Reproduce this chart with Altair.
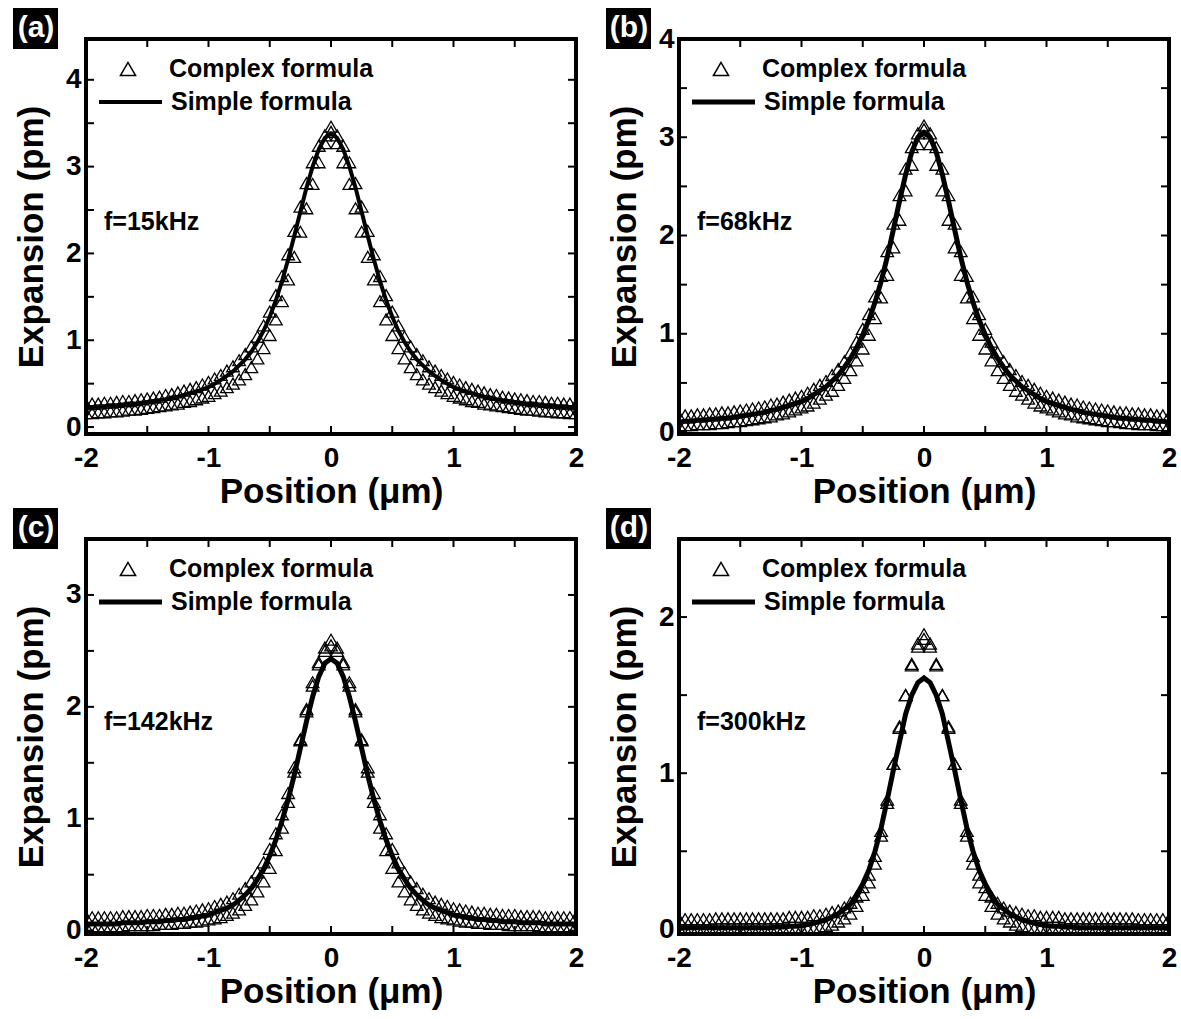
import altair as alt
import pandas as pd

# ---------------- data ----------------
X = [-2.00,-1.95,-1.90,-1.85,-1.80,-1.75,-1.70,-1.65,-1.60,-1.55,
     -1.50,-1.45,-1.40,-1.35,-1.30,-1.25,-1.20,-1.15,-1.10,-1.05,
     -1.00,-0.95,-0.90,-0.85,-0.80,-0.75,-0.70,-0.65,-0.60,-0.55,
     -0.50,-0.45,-0.40,-0.35,-0.30,-0.25,-0.20,-0.15,-0.10,-0.05,
     0.00,
     0.05,0.10,0.15,0.20,0.25,0.30,0.35,0.40,0.45,0.50,
     0.55,0.60,0.65,0.70,0.75,0.80,0.85,0.90,0.95,1.00,
     1.05,1.10,1.15,1.20,1.25,1.30,1.35,1.40,1.45,1.50,
     1.55,1.60,1.65,1.70,1.75,1.80,1.85,1.90,1.95,2.00]

# panel (a) f=15kHz
A_LINE = [0.23,0.23,0.24,0.24,0.25,0.25,0.26,0.27,0.27,0.28,
          0.29,0.30,0.31,0.32,0.34,0.35,0.37,0.39,0.41,0.43,
          0.46,0.50,0.54,0.59,0.64,0.71,0.78,0.87,0.98,1.11,
          1.27,1.46,1.68,1.93,2.20,2.48,2.76,3.00,3.20,3.33,
          3.38,
          3.33,3.20,3.00,2.76,2.48,2.20,1.93,1.68,1.46,1.27,
          1.11,0.98,0.87,0.78,0.71,0.64,0.59,0.54,0.50,0.46,
          0.43,0.41,0.39,0.37,0.35,0.34,0.32,0.31,0.30,0.29,
          0.28,0.27,0.27,0.26,0.25,0.25,0.24,0.24,0.23,0.23]
A_UP = [0.26,0.27,0.27,0.28,0.28,0.29,0.30,0.30,0.31,0.32,
        0.33,0.34,0.35,0.37,0.38,0.40,0.42,0.44,0.46,0.49,
        0.52,0.56,0.60,0.65,0.70,0.77,0.84,0.93,1.04,1.17,
        1.33,1.52,1.74,1.99,2.26,2.54,2.81,3.05,3.24,3.36,
        3.40,
        3.36,3.24,3.05,2.81,2.54,2.26,1.99,1.74,1.52,1.33,
        1.17,1.04,0.93,0.84,0.77,0.70,0.65,0.60,0.56,0.52,
        0.49,0.46,0.44,0.42,0.40,0.38,0.37,0.35,0.34,0.33,
        0.32,0.31,0.30,0.30,0.29,0.28,0.28,0.27,0.27,0.26]
A_LOW = [0.16,0.16,0.17,0.17,0.18,0.18,0.19,0.20,0.20,0.21,
         0.22,0.23,0.24,0.25,0.26,0.27,0.29,0.30,0.32,0.34,
         0.36,0.39,0.42,0.46,0.50,0.55,0.61,0.69,0.79,0.91,
         1.06,1.24,1.45,1.70,1.96,2.25,2.52,2.80,3.05,3.27,
         3.46,
         3.27,3.05,2.80,2.52,2.25,1.96,1.70,1.45,1.24,1.06,
         0.91,0.79,0.69,0.61,0.55,0.50,0.46,0.42,0.39,0.36,
         0.34,0.32,0.30,0.29,0.27,0.26,0.25,0.24,0.23,0.22,
         0.21,0.20,0.20,0.19,0.18,0.18,0.17,0.17,0.16,0.16]

# panel (b) f=68kHz
B_LINE = [0.10,0.11,0.11,0.12,0.12,0.13,0.13,0.14,0.14,0.15,
          0.16,0.17,0.18,0.19,0.20,0.22,0.23,0.25,0.27,0.29,
          0.31,0.34,0.38,0.42,0.46,0.52,0.58,0.66,0.75,0.86,
          0.99,1.14,1.32,1.53,1.78,2.06,2.35,2.62,2.85,3.00,
          3.05,
          3.00,2.85,2.62,2.35,2.06,1.78,1.53,1.32,1.14,0.99,
          0.86,0.75,0.66,0.58,0.52,0.46,0.42,0.38,0.34,0.31,
          0.29,0.27,0.25,0.23,0.22,0.20,0.19,0.18,0.17,0.16,
          0.15,0.14,0.14,0.13,0.13,0.12,0.12,0.11,0.11,0.10]
B_UP = [0.16,0.17,0.17,0.18,0.18,0.19,0.19,0.20,0.20,0.21,
        0.22,0.23,0.24,0.25,0.26,0.28,0.29,0.31,0.33,0.35,
        0.37,0.40,0.44,0.48,0.52,0.58,0.64,0.72,0.81,0.92,
        1.05,1.20,1.38,1.59,1.84,2.12,2.41,2.68,2.90,3.04,
        3.08,
        3.04,2.90,2.68,2.41,2.12,1.84,1.59,1.38,1.20,1.05,
        0.92,0.81,0.72,0.64,0.58,0.52,0.48,0.44,0.40,0.37,
        0.35,0.33,0.31,0.29,0.28,0.26,0.25,0.24,0.23,0.22,
        0.21,0.20,0.20,0.19,0.19,0.18,0.18,0.17,0.17,0.16]
B_LOW = [0.07,0.07,0.07,0.08,0.08,0.08,0.09,0.09,0.10,0.11,
         0.11,0.12,0.13,0.14,0.15,0.16,0.18,0.19,0.21,0.23,
         0.25,0.27,0.30,0.34,0.38,0.42,0.48,0.55,0.63,0.73,
         0.85,0.99,1.16,1.37,1.60,1.88,2.16,2.46,2.72,2.93,
         3.12,
         2.93,2.72,2.46,2.16,1.88,1.60,1.37,1.16,0.99,0.85,
         0.73,0.63,0.55,0.48,0.42,0.38,0.34,0.30,0.27,0.25,
         0.23,0.21,0.19,0.18,0.16,0.15,0.14,0.13,0.12,0.11,
         0.11,0.10,0.09,0.09,0.08,0.08,0.08,0.07,0.07,0.07]

# panel (c) f=142kHz
C_LINE = [0.06,0.06,0.06,0.06,0.06,0.06,0.07,0.07,0.07,0.07,
          0.08,0.08,0.08,0.09,0.09,0.10,0.10,0.11,0.12,0.13,
          0.14,0.16,0.18,0.20,0.23,0.27,0.32,0.38,0.46,0.55,
          0.67,0.81,0.98,1.17,1.39,1.63,1.87,2.09,2.27,2.39,
          2.43,
          2.39,2.27,2.09,1.87,1.63,1.39,1.17,0.98,0.81,0.67,
          0.55,0.46,0.38,0.32,0.27,0.23,0.20,0.18,0.16,0.14,
          0.13,0.12,0.11,0.10,0.10,0.09,0.09,0.08,0.08,0.08,
          0.07,0.07,0.07,0.07,0.06,0.06,0.06,0.06,0.06,0.06]
C_UP = [0.12,0.12,0.12,0.12,0.12,0.12,0.13,0.13,0.13,0.13,
        0.14,0.14,0.14,0.15,0.15,0.16,0.16,0.17,0.18,0.19,
        0.20,0.22,0.24,0.26,0.29,0.33,0.38,0.44,0.52,0.61,
        0.73,0.87,1.04,1.23,1.46,1.71,1.96,2.19,2.38,2.50,
        2.55,
        2.50,2.38,2.19,1.96,1.71,1.46,1.23,1.04,0.87,0.73,
        0.61,0.52,0.44,0.38,0.33,0.29,0.26,0.24,0.22,0.20,
        0.19,0.18,0.17,0.16,0.16,0.15,0.15,0.14,0.14,0.14,
        0.13,0.13,0.13,0.13,0.12,0.12,0.12,0.12,0.12,0.12]
C_LOW = [0.04,0.04,0.04,0.04,0.04,0.04,0.04,0.05,0.05,0.05,
         0.05,0.05,0.06,0.06,0.06,0.07,0.07,0.08,0.08,0.09,
         0.10,0.11,0.12,0.14,0.16,0.19,0.23,0.28,0.35,0.44,
         0.56,0.72,0.92,1.15,1.42,1.70,1.98,2.22,2.40,2.53,
         2.60,
         2.53,2.40,2.22,1.98,1.70,1.42,1.15,0.92,0.72,0.56,
         0.44,0.35,0.28,0.23,0.19,0.16,0.14,0.12,0.11,0.10,
         0.09,0.08,0.08,0.07,0.07,0.06,0.06,0.06,0.05,0.05,
         0.05,0.05,0.05,0.04,0.04,0.04,0.04,0.04,0.04,0.04]

# panel (d) f=300kHz
D_LINE = [0.01,0.01,0.01,0.01,0.01,0.01,0.01,0.01,0.01,0.01,
          0.01,0.01,0.01,0.01,0.01,0.01,0.015,0.015,0.02,0.02,
          0.025,0.03,0.04,0.05,0.06,0.08,0.10,0.13,0.16,0.22,
          0.29,0.38,0.50,0.65,0.83,1.02,1.20,1.38,1.50,1.58,
          1.61,
          1.58,1.50,1.38,1.20,1.02,0.83,0.65,0.50,0.38,0.29,
          0.22,0.16,0.13,0.10,0.08,0.06,0.05,0.04,0.03,0.025,
          0.02,0.02,0.015,0.015,0.01,0.01,0.01,0.01,0.01,0.01,
          0.01,0.01,0.01,0.01,0.01,0.01,0.01,0.01,0.01,0.01]
D_UP = [0.065,0.065,0.065,0.065,0.065,0.065,0.07,0.07,0.07,0.07,
        0.07,0.07,0.07,0.07,0.07,0.07,0.07,0.07,0.08,0.08,
        0.08,0.08,0.09,0.09,0.10,0.11,0.12,0.14,0.17,0.21,
        0.27,0.35,0.47,0.63,0.83,1.06,1.29,1.50,1.69,1.81,
        1.86,
        1.81,1.69,1.50,1.29,1.06,0.83,0.63,0.47,0.35,0.27,
        0.21,0.17,0.14,0.12,0.11,0.10,0.09,0.09,0.08,0.08,
        0.08,0.08,0.07,0.07,0.07,0.07,0.07,0.07,0.07,0.07,
        0.07,0.07,0.07,0.07,0.065,0.065,0.065,0.065,0.065,0.065]
D_LOW = [0.005,0.005,0.005,0.005,0.005,0.005,0.005,0.005,0.005,0.005,
         0.005,0.005,0.005,0.005,0.005,0.005,0.005,0.005,0.005,0.005,
         0.005,0.005,0.005,0.01,0.02,0.03,0.05,0.07,0.10,0.15,
         0.22,0.30,0.42,0.60,0.81,1.06,1.30,1.50,1.70,1.83,
         1.89,
         1.83,1.70,1.50,1.30,1.06,0.81,0.60,0.42,0.30,0.22,
         0.15,0.10,0.07,0.05,0.03,0.02,0.01,0.005,0.005,0.005,
         0.005,0.005,0.005,0.005,0.005,0.005,0.005,0.005,0.005,0.005,
         0.005,0.005,0.005,0.005,0.005,0.005,0.005,0.005,0.005,0.005]

TAGS = ["(a)", "(b)", "(c)", "(d)"]
FREQS = ["f=15kHz", "f=68kHz", "f=142kHz", "f=300kHz"]
YMIN = [-0.08, -0.02, -0.03, -0.03]
YMAX = [4.47, 4.0, 3.5, 2.5]
YLABELS = [[0, 1, 2, 3, 4], [0, 1, 2, 3, 4], [0, 1, 2, 3], [0, 1, 2]]
YTICKS = [[0, 0.5, 1, 1.5, 2, 2.5, 3, 3.5, 4],
          [0, 0.5, 1, 1.5, 2, 2.5, 3, 3.5, 4],
          [0, 0.5, 1, 1.5, 2, 2.5, 3, 3.5],
          [0, 0.5, 1, 1.5, 2, 2.5]]
XLABELS = [-2, -1, 0, 1, 2]
XTICKS = [-2, -1.5, -1, -0.5, 0, 0.5, 1, 1.5, 2]
LINES = [A_LINE, B_LINE, C_LINE, D_LINE]
UPS = [A_UP, B_UP, C_UP, D_UP]
LOWS = [A_LOW, B_LOW, C_LOW, D_LOW]
LEGEND = ["Complex formula", "Simple formula"]
XTITLE = "Position (μm)"
YTITLE = "Expansion (pm)"

W, H = 490, 395
FONT = "Liberation Sans"
LW = [4, 5, 5, 5]
TXT = 25


def panel(i):
    df = pd.DataFrame({"x": X, "simple": LINES[i], "up": UPS[i], "low": LOWS[i]})
    tri_df = df.melt(id_vars="x", value_vars=["up", "low"], var_name="set", value_name="y")
    xs = alt.Scale(domain=[-2, 2], nice=False, zero=False)
    ys = alt.Scale(domain=[YMIN[i], YMAX[i]], nice=False, zero=False)

    xaxis = alt.Axis(values=XLABELS, labelExpr="'' + datum.value", ticks=False, domain=False,
                     grid=False, labelFlush=False, labelPadding=10, titlePadding=2,
                     labelOverlap=False)
    yaxis = alt.Axis(values=YLABELS[i], labelExpr="'' + datum.value", ticks=False, domain=False,
                     grid=False, labelFlush=False, labelPadding=5, titlePadding=16,
                     labelOverlap=False)

    def X_(field):
        return alt.X(field, scale=xs, axis=xaxis, title=XTITLE)

    def Y_(field):
        return alt.Y(field, scale=ys, axis=yaxis, title=YTITLE)

    tri = alt.Chart(tri_df).mark_point(
        shape="triangle-up", filled=False, color="black", strokeWidth=1.3,
        size=160, opacity=1, clip=True
    ).encode(x=X_("x:Q"), y=Y_("y:Q"))
    line = alt.Chart(df).mark_line(color="black", strokeWidth=LW[i], clip=True).encode(
        x=X_("x:Q"), y=Y_("simple:Q"))

    xt = pd.DataFrame({"t": XTICKS})
    yt = pd.DataFrame({"t": YTICKS[i]})
    tick_b = alt.Chart(xt).mark_rule(color="black", strokeWidth=2).encode(
        x=X_("t:Q"), y=alt.value(H), y2=alt.value(H - 8))
    tick_t = alt.Chart(xt).mark_rule(color="black", strokeWidth=2).encode(
        x=X_("t:Q"), y=alt.value(0), y2=alt.value(8))
    tick_l = alt.Chart(yt).mark_rule(color="black", strokeWidth=2).encode(
        y=Y_("t:Q"), x=alt.value(0), x2=alt.value(8))
    tick_r = alt.Chart(yt).mark_rule(color="black", strokeWidth=2).encode(
        y=Y_("t:Q"), x=alt.value(W), x2=alt.value(W - 8))

    one = pd.DataFrame({"k": [0]})
    leg_tri = alt.Chart(one).mark_point(
        shape="triangle-up", filled=False, color="black", strokeWidth=1.5, size=230, opacity=1
    ).encode(x=alt.value(42), y=alt.value(30))
    leg_line = alt.Chart(one).mark_rule(color="black", strokeWidth=LW[i]).encode(
        x=alt.value(13), x2=alt.value(76), y=alt.value(63))
    leg_txt1 = alt.Chart(pd.DataFrame({"t": [LEGEND[0]]})).mark_text(
        align="left", baseline="middle", font=FONT, fontWeight="bold", fontSize=TXT, color="black"
    ).encode(x=alt.value(83), y=alt.value(30), text="t:N")
    leg_txt2 = alt.Chart(pd.DataFrame({"t": [LEGEND[1]]})).mark_text(
        align="left", baseline="middle", font=FONT, fontWeight="bold", fontSize=TXT, color="black"
    ).encode(x=alt.value(85), y=alt.value(63), text="t:N")
    freq = alt.Chart(pd.DataFrame({"t": [FREQS[i]]})).mark_text(
        align="left", baseline="middle", font=FONT, fontWeight="bold", fontSize=TXT, color="black"
    ).encode(x=alt.value(18), y=alt.value(183), text="t:N")
    tag_box = alt.Chart(one).mark_rect(color="black").encode(
        x=alt.value(-73), x2=alt.value(-28), y=alt.value(-31), y2=alt.value(10))
    tag_txt = alt.Chart(pd.DataFrame({"t": [TAGS[i]]})).mark_text(
        align="center", baseline="middle", font=FONT, fontWeight="bold", fontSize=30, color="white"
    ).encode(x=alt.value(-50), y=alt.value(-11), text="t:N")

    return alt.layer(tri, line, tick_b, tick_t, tick_l, tick_r,
                     leg_tri, leg_line, leg_txt1, leg_txt2, freq, tag_box, tag_txt
                     ).properties(width=W, height=H)


chart = alt.concat(
    panel(0), panel(1), panel(2), panel(3),
    columns=2, spacing={"row": 105, "column": 103}, bounds="flush"
).properties(
    padding={"left": 11, "top": 6, "right": 0, "bottom": 0},
    background="white",
).configure_view(
    stroke="black", strokeWidth=4
).configure_axis(
    labelFont=FONT, labelFontSize=28, labelFontWeight="bold", labelColor="black",
    titleFont=FONT, titleFontSize=35, titleFontWeight="bold", titleColor="black",
)

chart.save("out.html", embed_options={"renderer": "svg", "actions": False})
